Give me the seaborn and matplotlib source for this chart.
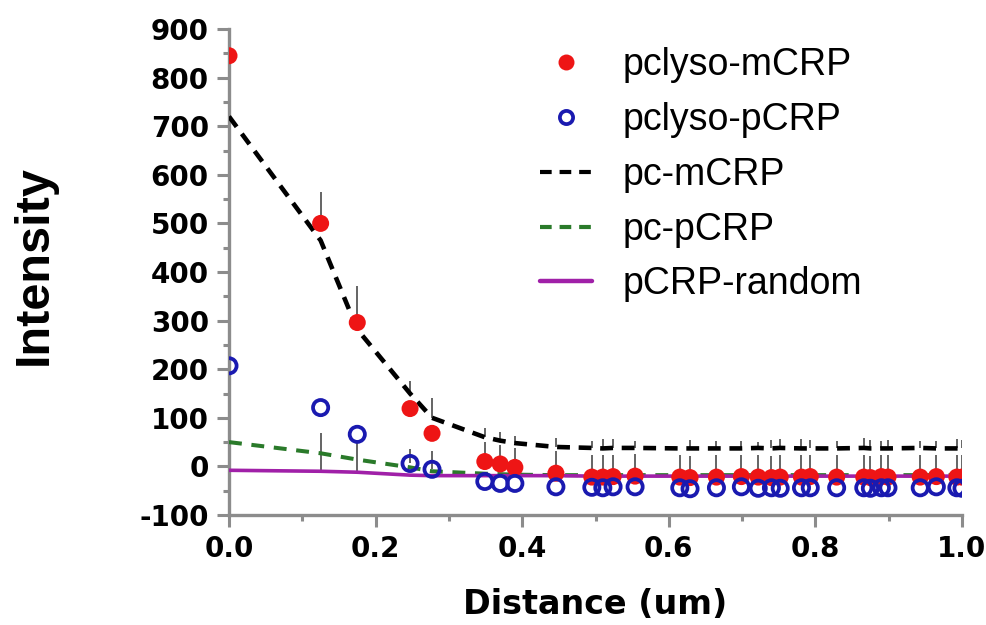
import numpy as np
import pandas as pd
import matplotlib
matplotlib.use("Agg")
import matplotlib.pyplot as plt
from matplotlib.ticker import MultipleLocator
from matplotlib.lines import Line2D
import seaborn as sns

# Sampling positions along the line profile (um)
distance = [0.0, 0.125, 0.175, 0.247, 0.277, 0.349, 0.370, 0.390, 0.446, 0.495,
            0.510, 0.524, 0.554, 0.615, 0.629, 0.665, 0.699, 0.722, 0.740, 0.752,
            0.781, 0.793, 0.829, 0.866, 0.875, 0.890, 0.899, 0.943, 0.965, 0.993, 1.0]

# Measured intensities
pclyso_mcrp = [845, 500, 296, 119, 68, 10, 5, -2, -14, -22,
               -22, -21, -20, -22, -23, -22, -21, -22, -23, -22,
               -22, -21, -22, -22, -23, -21, -22, -22, -21, -22, -22]
pclyso_pcrp = [207, 121, 66, 6, -6, -31, -35, -35, -42, -43,
               -44, -42, -42, -44, -46, -44, -42, -45, -44, -45,
               -44, -44, -44, -44, -45, -44, -44, -44, -42, -44, -45]
pc_mcrp = [720, 465, 282, 150, 100, 60, 53, 48, 40, 38,
           37, 38, 38, 37, 37, 37, 37, 38, 37, 38,
           37, 37, 37, 38, 37, 37, 37, 38, 37, 37, 37]
pc_pcrp = [50, 27, 14, -2, -10, -15, -16, -17, -18, -18,
           -18, -18, -18, -18, -18, -18, -18, -18, -18, -18,
           -18, -18, -18, -18, -18, -18, -18, -18, -18, -18, -18]
pcrp_random = [-8, -10, -12, -18, -19, -19, -19, -19, -19, -20,
               -20, -20, -20, -20, -20, -20, -20, -20, -20, -20,
               -20, -20, -20, -20, -20, -20, -20, -20, -20, -20, -20]

# Upper error (SD) for each series
err_mcrp = [50, 65, 75, 0, 0, 40, 40, 40, 45, 45,
            45, 45, 45, 45, 45, 45, 45, 45, 45, 45,
            45, 45, 45, 45, 45, 45, 45, 45, 45, 45, 45]
err_pcrp = [0, 0, 0, 30, 38, 0, 0, 0, 0, 0,
            0, 0, 0, 0, 0, 0, 0, 0, 0, 0,
            0, 0, 0, 0, 0, 0, 0, 0, 0, 0, 0]
err_pc_mcrp = [180, 0, 0, 25, 40, 18, 18, 15, 18, 15,
               20, 18, 15, 0, 18, 15, 15, 12, 18, 18,
               20, 18, 15, 20, 18, 15, 18, 15, 15, 20, 18]
err_pc_pcrp = [50, 0, 0, 0, 0, 0, 0, 0, 0, 0,
               0, 0, 0, 0, 0, 0, 0, 0, 0, 0,
               0, 0, 0, 0, 0, 0, 0, 0, 0, 0, 0]
err_random = [0, 78, 62, 0, 0, 0, 0, 0, 0, 0,
              0, 0, 0, 0, 0, 0, 0, 0, 0, 0,
              0, 0, 0, 0, 0, 0, 0, 0, 0, 0, 0]

x_ticks = [0.0, 0.2, 0.4, 0.6, 0.8, 1.0]
y_ticks = [-100, 0, 100, 200, 300, 400, 500, 600, 700, 800, 900]

df = pd.DataFrame({
    "distance": distance,
    "pclyso-mCRP": pclyso_mcrp,
    "pclyso-pCRP": pclyso_pcrp,
    "pc-mCRP": pc_mcrp,
    "pc-pCRP": pc_pcrp,
    "pCRP-random": pcrp_random,
})

RED = "#ee1515"
BLUE = "#1a1ab0"
GREEN = "#2a7a2a"
PURPLE = "#a020a8"
DASH = (0, (2.8, 1.9))

sns.set_theme(style="ticks")
plt.rcParams["font.family"] = ["DejaVu Sans"]
plt.rcParams["axes.unicode_minus"] = False
plt.rcParams["text.color"] = "black"
plt.rcParams["axes.labelcolor"] = "black"
plt.rcParams["xtick.labelcolor"] = "black"
plt.rcParams["ytick.labelcolor"] = "black"

fig = plt.figure(figsize=(9.87, 6.25), dpi=100)
ax = fig.add_axes([229 / 987, 1 - 515 / 625, 733 / 987, 486 / 625])

# Upper error bars
xs = np.array(distance)
for vals, errs in [(pclyso_mcrp, err_mcrp), (pclyso_pcrp, err_pcrp),
                   (pc_mcrp, err_pc_mcrp), (pc_pcrp, err_pc_pcrp),
                   (pcrp_random, err_random)]:
    v = np.array(vals, dtype=float)
    e = np.array(errs, dtype=float)
    m = e > 0
    ax.vlines(xs[m], v[m], v[m] + e[m], colors="#4a4a4a", linewidth=1.2, zorder=2)

# Reference profiles
sns.lineplot(data=df, x="distance", y="pc-mCRP", ax=ax, color="black",
             linewidth=3.3, linestyle=DASH, errorbar=None, zorder=3)
sns.lineplot(data=df, x="distance", y="pc-pCRP", ax=ax, color=GREEN,
             linewidth=2.9, linestyle=(0, (3.2, 2.4)), errorbar=None, zorder=3)
sns.lineplot(data=df, x="distance", y="pCRP-random", ax=ax, color=PURPLE,
             linewidth=2.6, errorbar=None, zorder=3)

# Measured points
sns.scatterplot(data=df, x="distance", y="pclyso-mCRP", ax=ax, color=RED,
                s=150, edgecolor="none", zorder=4)
sns.scatterplot(data=df, x="distance", y="pclyso-pCRP", ax=ax, marker="o",
                s=120, facecolor="none", edgecolor=BLUE, linewidth=2.7, zorder=4)

ax.set_xlim(0, 1.0)
ax.set_ylim(-100, 900)
ax.set_xticks(x_ticks)
ax.set_yticks(y_ticks)
ax.set_xticklabels([f"{t:.1f}" for t in x_ticks])
ax.set_yticklabels([str(t) for t in y_ticks])
ax.xaxis.set_minor_locator(MultipleLocator(0.1))
ax.yaxis.set_minor_locator(MultipleLocator(50))

for side in ["top", "right"]:
    ax.spines[side].set_visible(False)
for side in ["left", "bottom"]:
    ax.spines[side].set_color("#8c8c8c")
    ax.spines[side].set_linewidth(2.4)

ax.tick_params(which="major", length=8.5, width=2.2, color="#8c8c8c", pad=6,
               labelsize=20, labelcolor="black")
ax.tick_params(which="minor", length=4.5, width=2.2, color="#8c8c8c")
for lab in ax.get_xticklabels() + ax.get_yticklabels():
    lab.set_fontweight("bold")

ax.set_xlabel("Distance (um)", fontsize=24, fontweight="bold", labelpad=18,
              color="black")
ax.set_ylabel("Intensity", fontsize=35, fontweight="bold", color="black",
              family=["Liberation Sans", "DejaVu Sans"])
ax.yaxis.set_label_coords(-0.235, 0.514)

# Legend
handles = [
    Line2D([], [], linestyle="none", marker="o", markersize=11.5,
           markerfacecolor=RED, markeredgecolor="none"),
    Line2D([], [], linestyle="none", marker="o", markersize=9.5,
           markerfacecolor="none", markeredgecolor=BLUE, markeredgewidth=2.7),
    Line2D([], [], color="black", linewidth=3.0, linestyle=DASH),
    Line2D([], [], color=GREEN, linewidth=3.0, linestyle=DASH),
    Line2D([], [], color=PURPLE, linewidth=3.2),
]
labels = ["pclyso-mCRP", "pclyso-pCRP", "pc-mCRP", "pc-pCRP", "pCRP-random"]
ax.legend(handles, labels, loc="upper left", bbox_to_anchor=(0.424, 0.962),
          frameon=False, borderpad=0, borderaxespad=0, handlelength=1.4,
          handletextpad=0.8, labelspacing=0.5,
          prop={"family": ["Liberation Sans", "DejaVu Sans"], "size": 27})

fig.savefig("out.png", dpi=100)
